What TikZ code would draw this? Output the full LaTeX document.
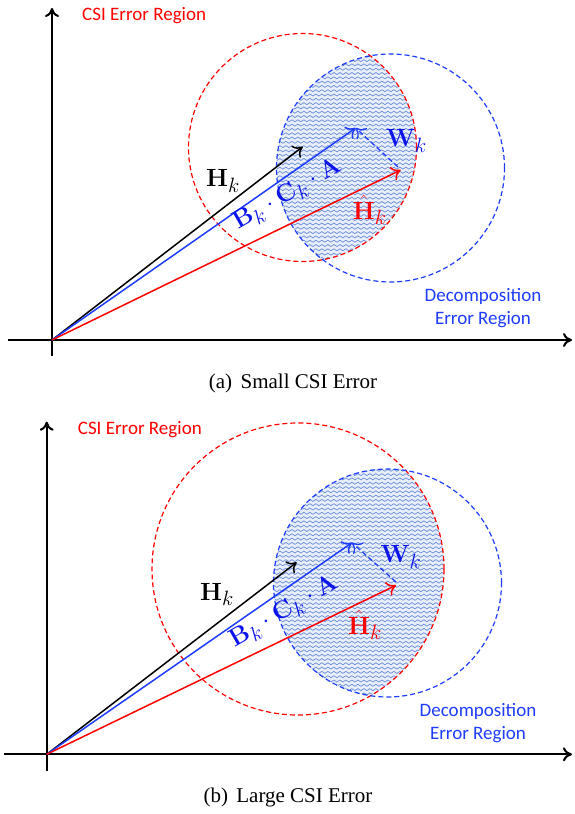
\documentclass[tikz,border=0pt]{standalone}
\usepackage[no-math]{fontspec}
\setmainfont{Liberation Serif}
\newfontfamily\calfont{Carlito}
\usetikzlibrary{arrows.meta,decorations.pathmorphing}
\definecolor{lblue}{RGB}{30,60,255}
\definecolor{mblue}{RGB}{10,20,235}
\definecolor{patbg}{RGB}{232,238,250}
\definecolor{patln}{RGB}{105,140,215}
\tikzset{
 axisline/.style={line width=2pt,-{To[length=9pt,width=14pt]}},
 vec/.style={line width=1.5pt,-{To[length=9pt,width=15pt]}},
 region/.style={line width=1.2pt,dash pattern=on 5pt off 3pt},
 wave/.style={patln,line width=0.7pt,decorate,decoration={snake,amplitude=1pt,segment length=6pt}},
 lab/.style={font=\calfont\fontsize{19}{23}\selectfont,inner sep=0pt},
 mlab/.style={font=\fontsize{24.88}{29}\selectfont,inner sep=0pt,anchor=base west},
 capt/.style={font=\fontsize{21}{25}\selectfont,inner sep=0pt},
}
\begin{document}
\begin{tikzpicture}[x=1pt,y=-1pt]
\useasboundingbox (0,0) rectangle (574,814);
% ---------------- panel (a)
\coordinate (Oa) at (52,340);
\coordinate (xa0) at (8,340); \coordinate (xa1) at (572,340);
\coordinate (ya0) at (52,356); \coordinate (ya1) at (52,8);
\coordinate (RCa) at (302.5,147.5); \coordinate (BCa) at (390.5,168);
\coordinate (Ha) at (302.7,146.7); \coordinate (Ga) at (355.7,128); \coordinate (Ea) at (400.7,170);
\coordinate (Wsa) at (398,167);
\begin{scope}
 \clip (RCa) circle (114pt);
 \clip (BCa) circle (114pt);
 \fill[patbg] (250,40) rectangle (440,290);
 \foreach \yy in {52,56.3,...,266} \draw[wave] (260,\yy) -- (440,\yy);
\end{scope}
\draw[region,red] (RCa) circle (114pt);
\draw[region,lblue] (BCa) circle (114pt);
\draw[axisline] (ya0) -- (ya1);
\draw[axisline] (xa0) -- (xa1);
\draw[vec,black] (Oa) -- (Ha);
\draw[vec,lblue] (Oa) -- (Ga);
\draw[vec,red] (Oa) -- (Ea);
\draw[vec,lblue,line width=1.3pt,dash pattern=on 5pt off 3pt] (Wsa) -- (Ga);
\node[mlab] (Hla) at (206,186.5) {$\mathbf{H}_k$};
\node[mlab,mblue,rotate=30] (BCAa) at (238,230) {$\mathbf{B}_k\cdot\mathbf{C}_k\cdot\mathbf{A}$};
\node[mlab,red] (Hhata) at (352.7,219) {$\hat{\mathbf{H}}_k$};
\node[mlab,mblue] (Wla) at (386,146.7) {$\mathbf{W}_k$};
\node[lab,red,anchor=west] (csia) at (82,16) {CSI Error Region};
\node[lab,lblue,align=center] (deca) at (483,308.5) {Decomposition\\Error Region};
\node[capt] (capa) at (293,383) {(a)\hspace{0.4em}Small CSI Error};
% ---------------- panel (b)
\coordinate (Ob) at (46.7,754.3);
\coordinate (xb0) at (4,754.3); \coordinate (xb1) at (572,754.3);
\coordinate (yb0) at (46.7,771); \coordinate (yb1) at (46.7,421.7);
\coordinate (RCb) at (298,569); \coordinate (BCb) at (387.5,583);
\coordinate (Hb) at (296.7,562.3); \coordinate (Gb) at (352,542.7); \coordinate (Eb) at (396,585.3);
\coordinate (Wsb) at (396,582);
\begin{scope}
 \clip (RCb) circle (146pt);
 \clip (BCb) circle (114pt);
 \fill[patbg] (250,450) rectangle (460,710);
 \foreach \yy in {466,470.3,...,702} \draw[wave] (260,\yy) -- (460,\yy);
\end{scope}
\draw[region,red] (RCb) circle (146pt);
\draw[region,lblue] (BCb) circle (114pt);
\draw[axisline] (yb0) -- (yb1);
\draw[axisline] (xb0) -- (xb1);
\draw[vec,black] (Ob) -- (Hb);
\draw[vec,lblue] (Ob) -- (Gb);
\draw[vec,red] (Ob) -- (Eb);
\draw[vec,lblue,line width=1.3pt,dash pattern=on 5pt off 3pt] (Wsb) -- (Gb);
\node[mlab] (Hlb) at (200,600) {$\mathbf{H}_k$};
\node[mlab,mblue,rotate=30] (BCAb) at (234.5,647.5) {$\mathbf{B}_k\cdot\mathbf{C}_k\cdot\mathbf{A}$};
\node[mlab,red] (Hhatb) at (348,634) {$\hat{\mathbf{H}}_k$};
\node[mlab,mblue] (Wlb) at (380.5,562.7) {$\mathbf{W}_k$};
\node[lab,red,anchor=west] (csib) at (77.7,430) {CSI Error Region};
\node[lab,lblue,align=center] (decb) at (478,723) {Decomposition\\Error Region};
\node[capt] (capb) at (288,797) {(b)\hspace{0.4em}Large CSI Error};
\end{tikzpicture}
\end{document}
